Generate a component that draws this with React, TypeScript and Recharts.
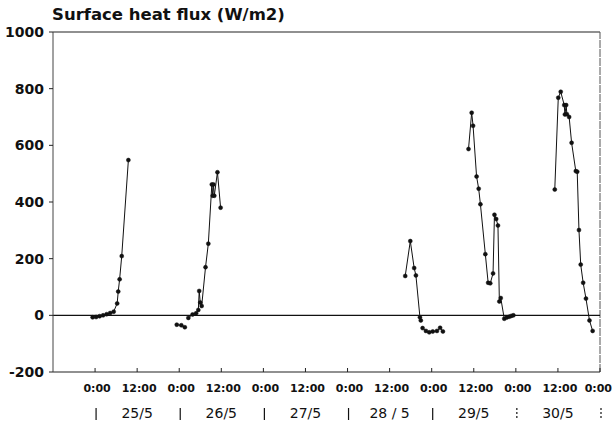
import React from 'react';
import { LineChart, Line, XAxis, YAxis, ReferenceLine } from 'recharts';

// Hours counted from 25/5 00:00
const seg25Hours = [-0.7, 0.3, 1.3, 2.3, 3.3, 4.3, 5.3, 6.3, 6.6, 7.0, 7.6, 9.5];
const seg25Flux = [-7, -6, -3, 0, 4, 8, 13, 42, 84, 127, 209, 548];

const seg26aHours = [23.3, 24.6, 25.6];
const seg26aFlux = [-33, -35, -42];

const seg26bHours = [26.6, 27.8, 28.8, 29.45, 29.7, 30.0, 30.4, 31.5, 32.3, 33.3, 33.55, 33.75, 34.0, 34.9, 35.8];
const seg26bFlux = [-9, 3, 7, 19, 86, 45, 33, 170, 253, 462, 422, 462, 422, 505, 380];

const seg28aHours = [88.45, 89.9, 91.0, 91.5, 92.65, 92.9];
const seg28aFlux = [139, 262, 167, 141, -7, -18];

const seg28bHours = [93.4, 94.35, 95.3, 96.3, 97.5, 98.4, 99.2];
const seg28bFlux = [-45, -55, -60, -57, -55, -44, -57];

const seg29Hours = [106.5, 107.4, 107.8, 108.8, 109.4, 109.9, 111.3, 112.1, 112.7, 113.5, 113.9, 114.4, 114.9, 115.3, 115.7, 116.7, 117.4, 118.1, 118.7, 119.3];
const seg29Flux = [587, 715, 669, 490, 447, 392, 216, 115, 113, 148, 355, 340, 317, 49, 61, -12, -8, -5, -2, 0];

const seg30Hours = [131.1, 132.1, 132.8, 133.8, 134.0, 134.35, 134.55, 135.2, 135.9, 137.1, 137.5, 138.0, 138.5, 139.2, 140.0, 141.0, 141.9];
const seg30Flux = [444, 768, 789, 742, 709, 742, 710, 700, 609, 509, 507, 301, 179, 115, 59, -18, -55];

const timeTicks = [0, 12, 24, 36, 48, 60, 72, 84, 96, 108, 120, 132, 144];
const timeLabels = ['0:00', '12:00'];
const dayLabels = ['25/5', '26/5', '27/5', '28 / 5', '29/5', '30/5'];
const yTicks = [-200, 0, 200, 400, 600, 800, 1000];

const segments = [
  [seg25Hours, seg25Flux],
  [seg26aHours, seg26aFlux],
  [seg26bHours, seg26bFlux],
  [seg28aHours, seg28aFlux],
  [seg28bHours, seg28bFlux],
  [seg29Hours, seg29Flux],
  [seg30Hours, seg30Flux],
].map(([hours, flux]) => hours.map((h, i) => ({ h, v: flux[i] })));

const FONT = 'DejaVu Sans';

const XTick = (props: any) => {
  const { x, y, payload } = props;
  const v = payload.value as number;
  const midnight = v % 24 === 0;
  const dayIdx = Math.floor(v / 24);
  const last = v === timeTicks[timeTicks.length - 1];
  return (
    <g>
      <line x1={x} x2={x} y1={y} y2={y - 4} stroke="#222" strokeWidth={1} />
      <text
        x={last ? 612 : x + 2}
        y={y + 20}
        textAnchor={last ? 'end' : 'middle'}
        fontSize={11}
        fontWeight="bold"
        fontFamily={FONT}
        fill="#111"
      >
        {midnight ? timeLabels[0] : timeLabels[1]}
      </text>
      {midnight ? (
        <line
          x1={x + 1}
          x2={x + 1}
          y1={y + 36}
          y2={y + 48}
          stroke="#111"
          strokeWidth={1.2}
          strokeDasharray={v >= 120 ? '2 2' : undefined}
        />
      ) : (
        <text
          x={x}
          y={y + 46}
          textAnchor="middle"
          fontSize={14}
          fontFamily={FONT}
          fill="#111"
        >
          {dayLabels[dayIdx]}
        </text>
      )}
    </g>
  );
};

export default function App() {
  return (
    <div style={{ position: 'absolute', left: 0, top: 0, width: 613, height: 423, background: '#fff' }}>
      <div
        style={{
          position: 'absolute',
          left: 52,
          top: 5,
          fontFamily: FONT,
          fontSize: 16.5,
          fontWeight: 'bold',
          lineHeight: '20px',
          color: '#111',
          whiteSpace: 'nowrap',
        }}
      >
        Surface heat flux (W/m2)
      </div>
      <LineChart
        width={613}
        height={423}
        margin={{ top: 32, right: 13, bottom: 0, left: 0 }}
      >
        <XAxis
          type="number"
          dataKey="h"
          domain={[-12, 144]}
          ticks={timeTicks}
          allowDuplicatedCategory={false}
          height={51}
          tickSize={0}
          tickMargin={0}
          tick={<XTick />}
          axisLine={{ stroke: '#222', strokeWidth: 1.2 }}
          interval={0}
        />
        <YAxis
          type="number"
          dataKey="v"
          domain={[-200, 1000]}
          ticks={yTicks}
          width={53}
          tickSize={4}
          tickMargin={5}
          interval={0}
          axisLine={{ stroke: '#444', strokeWidth: 1 }}
          tickLine={{ stroke: '#222' }}
          tick={{ fontSize: 14, fontWeight: 'bold', fill: '#111', fontFamily: FONT }}
        />
        <ReferenceLine y={1000} stroke="#222" strokeWidth={1.2} />
        <ReferenceLine x={144} stroke="#555" strokeWidth={1} strokeDasharray="8 1" />
        <ReferenceLine y={0} stroke="#111" strokeWidth={1.3} />
        {segments.map((seg, i) => (
          <Line
            key={i}
            data={seg}
            dataKey="v"
            type="linear"
            stroke="#111"
            strokeWidth={1}
            dot={{ r: 2, fill: '#111', stroke: '#111', strokeWidth: 0.5 }}
            activeDot={false}
            isAnimationActive={false}
          />
        ))}
      </LineChart>
    </div>
  );
}
